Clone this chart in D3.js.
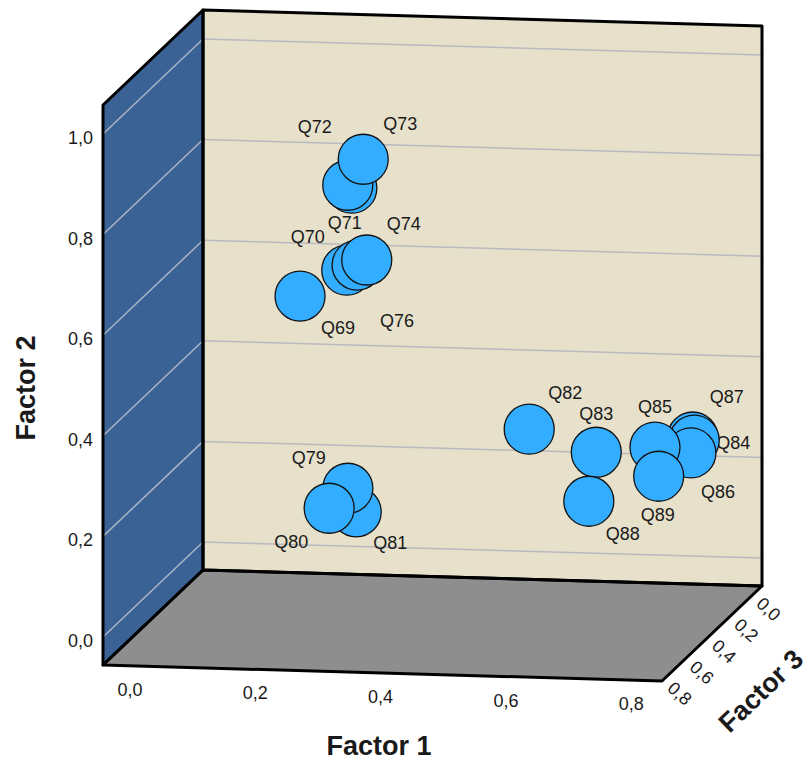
<!DOCTYPE html>
<html>
<head>
<meta charset="utf-8">
<title>Factor plot</title>
<script src="https://d3js.org/d3.v7.min.js"></script>
<style>
  body { margin: 0; background: #fff; }
  text { font-family: "Liberation Sans", Arial, sans-serif; fill: #1a1a1a; }
  .title { font-weight: bold; font-size: 27px; }
  .tick { font-size: 18px; }
  .lbl { font-size: 18px; }
</style>
</head>
<body>
<div id="chart"></div>
<script>
// loadings
var names   = ["Q69","Q70","Q71","Q72","Q73","Q74","Q76","Q79","Q80","Q81","Q82","Q83","Q84","Q85","Q86","Q87","Q88","Q89"];
var factor1 = [0.142,0.213,0.230,0.227,0.257,0.252,0.233,0.330,0.309,0.338,0.513,0.620,0.771,0.719,0.771,0.765,0.617,0.732];
var factor2 = [0.531,0.581,0.755,0.765,0.824,0.611,0.596,0.288,0.258,0.235,0.286,0.244,0.267,0.264,0.248,0.269,0.157,0.215];
var factor3 = [0.12,0.10,0.15,0.17,0.20,0.14,0.12,0.75,0.80,0.72,0.15,0.15,0.12,0.18,0.15,0.10,0.20,0.22];

var xTicks = [0, 0.2, 0.4, 0.6, 0.8];
var yTicks = [0, 0.2, 0.4, 0.6, 0.8, 1.0];
var zTicks = [0, 0.2, 0.4, 0.6, 0.8];

var width = 810, height = 762;

var svg = d3.select("#chart").append("svg")
    .attr("width", width)
    .attr("height", height);

// each axis maps to 0..1 along one edge of the box
var xScale = d3.scaleLinear().domain([-0.043, 0.849]).range([0, 1]);
var yScale = d3.scaleLinear().domain([-0.0557, 1.0576]).range([0, 1]);
var zScale = d3.scaleLinear().domain([-0.05, 0.85]).range([0, 1]);

// box: back-bottom-left corner and the three edge vectors
var corner = [203, 570], edgeX = [559, 16], edgeY = [0, -560], edgeZ = [-100, 95];

function proj(x, y, z) {
  var u = xScale(x), v = yScale(y), w = zScale(z);
  return [corner[0] + u * edgeX[0] + v * edgeY[0] + w * edgeZ[0],
          corner[1] + u * edgeX[1] + v * edgeY[1] + w * edgeZ[1]];
}

var x0 = xScale.domain()[0], x1 = xScale.domain()[1];
var y0 = yScale.domain()[0], y1 = yScale.domain()[1];
var z0 = zScale.domain()[0], z1 = zScale.domain()[1];

var line = d3.line();
var fmt = function(v) { return d3.format(".1f")(v).replace(".", ","); };

// walls
var back  = [proj(x0,y0,z0), proj(x1,y0,z0), proj(x1,y1,z0), proj(x0,y1,z0)];
var left  = [proj(x0,y0,z0), proj(x0,y1,z0), proj(x0,y1,z1), proj(x0,y0,z1)];
var floor = [proj(x0,y0,z0), proj(x1,y0,z0), proj(x1,y0,z1), proj(x0,y0,z1)];

svg.append("path").attr("d", line(back) + "Z").attr("fill", "#E7E1CB");
svg.append("path").attr("d", line(left) + "Z").attr("fill", "#3A6294");
svg.append("path").attr("d", line(floor) + "Z").attr("fill", "#8E8E8E");

// grid lines
svg.append("g").selectAll("line").data(yTicks).enter().append("line")
    .attr("x1", function(d) { return proj(x0, d, z0)[0]; })
    .attr("y1", function(d) { return proj(x0, d, z0)[1]; })
    .attr("x2", function(d) { return proj(x1, d, z0)[0]; })
    .attr("y2", function(d) { return proj(x1, d, z0)[1]; })
    .attr("stroke", "#B9B9C0").attr("stroke-width", 1.5);

svg.append("g").selectAll("line").data(yTicks).enter().append("line")
    .attr("x1", function(d) { return proj(x0, d, z1)[0]; })
    .attr("y1", function(d) { return proj(x0, d, z1)[1]; })
    .attr("x2", function(d) { return proj(x0, d, z0)[0]; })
    .attr("y2", function(d) { return proj(x0, d, z0)[1]; })
    .attr("stroke", "#A9B5C8").attr("stroke-width", 1.5);

// box outlines
[back, left, floor].forEach(function(p) {
  svg.append("path").attr("d", line(p) + "Z")
      .attr("fill", "none").attr("stroke", "#000")
      .attr("stroke-width", 3).attr("stroke-linejoin", "round");
});

// tick labels
svg.append("g").selectAll("text").data(yTicks).enter().append("text")
    .attr("class", "tick")
    .attr("x", function(d) { return proj(x0, d, z1)[0] - 10; })
    .attr("y", function(d) { return proj(x0, d, z1)[1] + 4; })
    .attr("text-anchor", "end").attr("dominant-baseline", "central")
    .text(fmt);

svg.append("g").selectAll("text").data(xTicks).enter().append("text")
    .attr("class", "tick")
    .attr("x", function(d) { return proj(d, y0, z1)[0]; })
    .attr("y", function(d) { return proj(d, y0, z1)[1] + 24; })
    .attr("text-anchor", "middle").attr("dominant-baseline", "central")
    .text(fmt);

svg.append("g").selectAll("text").data(zTicks).enter().append("text")
    .attr("class", "tick")
    .attr("text-anchor", "middle").attr("dominant-baseline", "central")
    .attr("transform", function(d) {
      var p = proj(x1, y0, d);
      return "translate(" + (p[0] + 12) + "," + (p[1] + 18) + ") rotate(42)";
    })
    .text(fmt);

// axis titles
svg.append("text").attr("class", "title")
    .attr("x", 379).attr("y", 755).attr("text-anchor", "middle")
    .text("Factor 1");
svg.append("text").attr("class", "title")
    .attr("transform", "translate(35,388) rotate(-90)").attr("text-anchor", "middle")
    .text("Factor 2");
svg.append("text").attr("class", "title")
    .attr("transform", "translate(761,691) rotate(-44)")
    .attr("text-anchor", "middle").attr("dominant-baseline", "central")
    .text("Factor 3");

// points, back to front
var points = names.map(function(n, i) {
  return { name: n, x: factor1[i], y: factor2[i], z: factor3[i] };
});
points.sort(function(a, b) { return a.z - b.z; });

// where each label sits relative to its marker
var labelPlace = {
  Q69: [38, 32], Q70: [-39, -33], Q71: [-7, 35], Q72: [-33, -58], Q73: [37, -35],
  Q74: [37, -36], Q76: [40, 56], Q79: [-39, -30], Q80: [-38, 34], Q81: [34, 31],
  Q82: [36, -36], Q83: [0, -38], Q84: [39, 3], Q85: [0, -40], Q86: [27, 39],
  Q87: [34, -40], Q88: [34, 33], Q89: [-1, 39]
};

svg.append("g").selectAll("text").data(points).enter().append("text")
    .attr("class", "lbl")
    .attr("x", function(d) { return proj(d.x, d.y, d.z)[0] + labelPlace[d.name][0]; })
    .attr("y", function(d) { return proj(d.x, d.y, d.z)[1] + labelPlace[d.name][1]; })
    .attr("text-anchor", "middle").attr("dominant-baseline", "central")
    .text(function(d) { return d.name; });

svg.append("g").selectAll("circle").data(points).enter().append("circle")
    .attr("cx", function(d) { return proj(d.x, d.y, d.z)[0]; })
    .attr("cy", function(d) { return proj(d.x, d.y, d.z)[1]; })
    .attr("r", 25)
    .attr("fill", "#33ADFF")
    .attr("stroke", "#111").attr("stroke-width", 1.3);
</script>
</body>
</html>
